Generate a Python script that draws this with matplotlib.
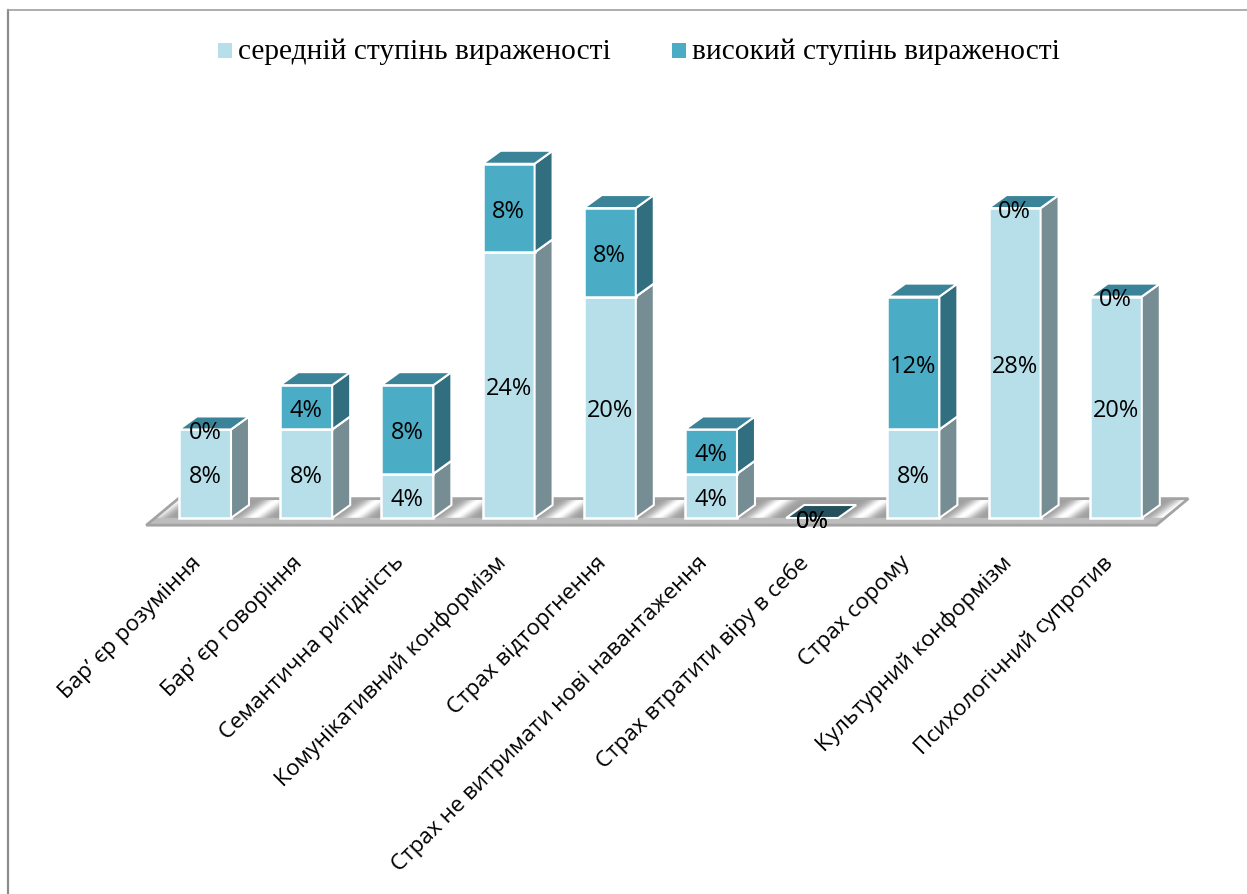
import numpy as np
import matplotlib
matplotlib.use("Agg")
import matplotlib.pyplot as plt
from matplotlib.patches import Polygon, Rectangle
from matplotlib.lines import Line2D
from matplotlib.transforms import ScaledTranslation

categories = ["Бар\u02bc єр розуміння", "Бар\u02bc єр говоріння", "Семантична ригідність",
              "Комунікативний конформізм", "Страх відторгнення",
              "Страх не витримати нові навантаження", "Страх втратити віру в себе",
              "Страх сорому", "Культурний конформізм", "Психологічний супротив"]
medium = [8, 8, 4, 24, 20, 4, 0, 8, 28, 20]
high = [0, 4, 8, 8, 8, 4, 0, 12, 0, 0]
legend_labels = ["середній ступінь вираженості", "високий ступінь вираженості"]

# front, side and top colours
MED = ("#b7dfea", "#768d94", "#93b3bc")
HIGH = ("#4bacc6", "#316e80", "#3a8398")
ZERO_TOP = "#24505c"

W, H = 1247, 894
fig = plt.figure(figsize=(W / 100, H / 100), dpi=100)

# one category = 101.2 px, one percent = 11.07 px
x_left, x_right = 130, 1210
y_bottom, y_top = 530, 130
ax = fig.add_axes([x_left / W, 1 - y_bottom / H, (x_right - x_left) / W, (y_bottom - y_top) / H])
for s in ax.spines.values():
    s.set_visible(False)
ax.patch.set_alpha(0)
ax.set_yticks([])
ax.set_xticks(range(len(categories)))
ax.set_xticklabels(categories, rotation=45, ha="right", va="top", rotation_mode="anchor",
                   fontsize=16.1, family="Open Sans")
ax.tick_params(axis="x", length=0, pad=16)
# labels sit a bit left of the bar centre
shift = ScaledTranslation(-14 / 100, 0, fig.dpi_scale_trans)
for lab in ax.get_xticklabels():
    lab.set_transform(lab.get_transform() + shift)

bw = 52 / 101.2
dx = 18 / 101.2
dy = 13 / 11.07
shear = dx / dy

# floor of the 3d chart, metal looking diagonal bands
floor_l = -0.58
floor_r = 9.4
floor_front = -0.65
floor_back = 1.75
floor_dx = 32 / 101.2
floor = Polygon([(floor_l, floor_front), (floor_r, floor_front),
                 (floor_r + floor_dx, floor_back), (floor_l + floor_dx, floor_back)],
                closed=True, facecolor="none", edgecolor="#a3a3a3", lw=2.0, zorder=2)
ax.add_patch(floor)
xx, yy = np.meshgrid(np.linspace(floor_l, floor_r + floor_dx, 1100), np.linspace(floor_front, floor_back, 60))
v = 0.5 + 0.5 * np.cos(2 * np.pi * (xx - 0.61 - shear * (yy - 0.9)))
shade = 0.62 + 0.38 * v ** 8
shade[yy < 0] = 0.74
im = ax.imshow(shade, extent=(floor_l, floor_r + floor_dx, floor_front, floor_back), origin="lower",
               cmap="gray", vmin=0, vmax=1, aspect="auto", zorder=1)
im.set_clip_path(floor)
ax.set_xlim((x_left - 205) / 101.2, (x_right - 205) / 101.2)
ax.set_ylim((518 - y_bottom) / 11.07, (518 - y_top) / 11.07)


def draw_segment(x, y0, h, cols, z):
    ax.bar(x, h, bw, bottom=y0, color=cols[0], edgecolor="white", lw=1.8, zorder=z)
    l, r = x - bw / 2, x + bw / 2
    ax.add_patch(Polygon([(r, y0), (r + dx, y0 + dy), (r + dx, y0 + h + dy), (r, y0 + h)],
                         closed=True, facecolor=cols[1], edgecolor="white", lw=1.5, zorder=z))
    ax.add_patch(Polygon([(l, y0 + h), (r, y0 + h), (r + dx, y0 + h + dy), (l + dx, y0 + h + dy)],
                         closed=True, facecolor=cols[2], edgecolor="white", lw=1.5, zorder=z))


for i in range(len(categories)):
    z = 3
    if medium[i] > 0:
        draw_segment(i, 0, medium[i], MED, z)
    if high[i] > 0:
        draw_segment(i, medium[i], high[i], HIGH, z + 1)
    elif medium[i] > 0:
        # empty upper segment only shows its top
        l, r = i - bw / 2, i + bw / 2
        t = medium[i]
        ax.add_patch(Polygon([(l, t), (r, t), (r + dx, t + dy), (l + dx, t + dy)],
                             closed=True, facecolor=HIGH[2], edgecolor="white", lw=1.5, zorder=z + 1))
    if medium[i] == 0 and high[i] == 0:
        l, r = i - bw / 2, i + bw / 2
        ax.add_patch(Polygon([(l, 0), (r, 0), (r + dx, dy), (l + dx, dy)],
                             closed=True, facecolor=ZERO_TOP, edgecolor="white", lw=1.5, zorder=z + 1))

# data labels, centred in their segments
label_drop = 0.33
for i in range(len(categories)):
    ax.text(i, medium[i] / 2 - label_drop, "%d%%" % medium[i], ha="center", va="center",
            fontsize=17, family="Open Sans", zorder=8)
    ax.text(i, medium[i] + high[i] / 2 - label_drop, "%d%%" % high[i], ha="center", va="center",
            fontsize=17, family="Open Sans", zorder=8)

# legend placed by hand like the original
for sx, col, lab, tx in [(218, MED[0], legend_labels[0], 238), (672, HIGH[0], legend_labels[1], 692)]:
    fig.add_artist(Rectangle((sx / W, 1 - 58 / H), 14 / W, 15 / H, transform=fig.transFigure,
                             facecolor=col, edgecolor="none"))
    fig.text(tx / W, 1 - 52 / H, lab, fontsize=21.2, family="Liberation Serif", ha="left", va="center")

# chart frame
fig.add_artist(Line2D([8 / W, 8 / W], [0, 1 - 10 / H], color="#8c8c8c", lw=1.6))
fig.add_artist(Line2D([8 / W, 1], [1 - 10 / H, 1 - 10 / H], color="#a0a0a0", lw=1.2))

fig.savefig("out.png", dpi=100, facecolor="white")
